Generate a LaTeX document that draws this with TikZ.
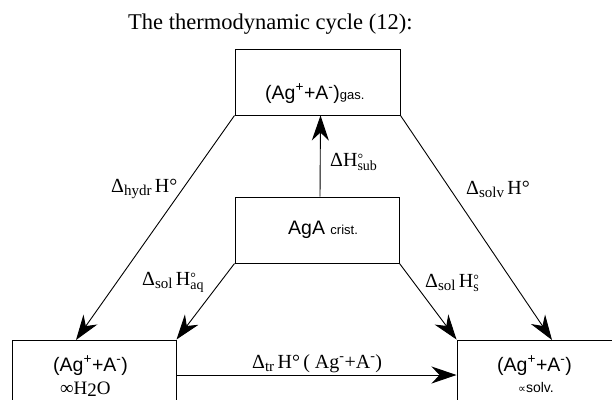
\documentclass[tikz,border=0pt]{standalone}
\usepackage{fontspec}
\setmainfont{Liberation Serif}
\newfontfamily\arial{Liberation Sans}
\newfontfamily\dejavu{DejaVu Sans}
\usetikzlibrary{arrows.meta}
\newcommand{\dsb}[1]{\raisebox{-0.4ex}{\fontsize{15}{15}\selectfont #1}}
\newcommand{\Hss}[1]{H\raisebox{-0.45ex}{\fontsize{14}{14}\selectfont\begin{tabular}[b]{@{}l@{}}°\\[-7pt]#1\end{tabular}}}
\newcommand{\smalltxt}[1]{{\fontsize{13}{13}\selectfont #1}}
\begin{document}
\begin{tikzpicture}[x=1pt,y=-1pt,
  box/.style={draw,line width=1pt,inner sep=0pt},
  arr/.style={line width=0.9pt,-{Stealth[length=25pt,width=17pt,inset=8pt]}},
  lbl/.style={inner sep=0pt,anchor=base west,font=\fontsize{20}{22}\selectfont},
  btxt/.style={inner sep=0pt,anchor=base west,font=\arial\fontsize{19.5}{22}\selectfont}]
\useasboundingbox (0,0) rectangle (612,399);
\clip (0,0) rectangle (612,399);
% title
\node[inner sep=0pt,anchor=base west,font=\fontsize{22.5}{24}\selectfont] (title) at (128,29) {The thermodynamic cycle (12):};
% boxes
\node[box,minimum width=165pt,minimum height=66pt] (top) at (317.5,82) {};
\node[box,minimum width=164pt,minimum height=66pt] (mid) at (317,230) {};
\node[box,minimum width=164pt,minimum height=70pt] (lb) at (94,375) {};
\node[box,minimum width=200pt,minimum height=70pt] (rb) at (557,375) {};
% box texts
\node[btxt] (toptxt) at (265,99) {(Ag\textsuperscript{+}+A\textsuperscript{-})\smalltxt{gas.}};
\node[btxt] (midtxt) at (288,234) {AgA \smalltxt{crist.}};
\node[btxt] (lbtxt) at (53,371) {(Ag\textsuperscript{+}+A\textsuperscript{-})};
\node[inner sep=0pt,anchor=base west,font=\fontsize{19}{20}\selectfont] (lbtxt2) at (60,394) {∞H\raisebox{-0.25ex}{2}O};
\node[btxt] (rbtxt) at (497,371) {(Ag\textsuperscript{+}+A\textsuperscript{-})};
\node[inner sep=0pt,anchor=base west,font=\arial\fontsize{14}{16}\selectfont] (rbtxt2) at (518,392) {{\dejavu\fontsize{11}{12}\selectfont ∝}solv.};
% coordinates
\coordinate (lbt) at (76,340);
\coordinate (rbt) at (552,340);
% arrows
\draw[arr] ([xshift=3pt]mid.north) -- ([xshift=3pt]top.south);
\draw[arr] (top.south west) -- (lbt);
\draw[arr] (top.south east) -- (rbt);
\draw[arr] (mid.south west) -- (lb.north east);
\draw[arr] (mid.south east) -- (rb.north west);
\draw[arr] (lb.east) -- (rb.west);
% labels
\node[lbl] (lsub) at (330,166) {Δ\Hss{sub}};
\node[lbl] (lhydr) at (111,192) {Δ\dsb{hydr}\,H°};
\node[lbl] (lsolv) at (466,194) {Δ\dsb{solv}\,H°};
\node[lbl] (laq) at (142,285) {Δ\dsb{sol}\,\Hss{aq}};
\node[lbl] (ls) at (425,287) {Δ\dsb{sol}\,\Hss{s}};
\node[lbl] (ltr) at (252,368) {Δ\dsb{tr}\,H°\,( Ag\textsuperscript{-}+A\textsuperscript{-})};
\end{tikzpicture}
\end{document}
